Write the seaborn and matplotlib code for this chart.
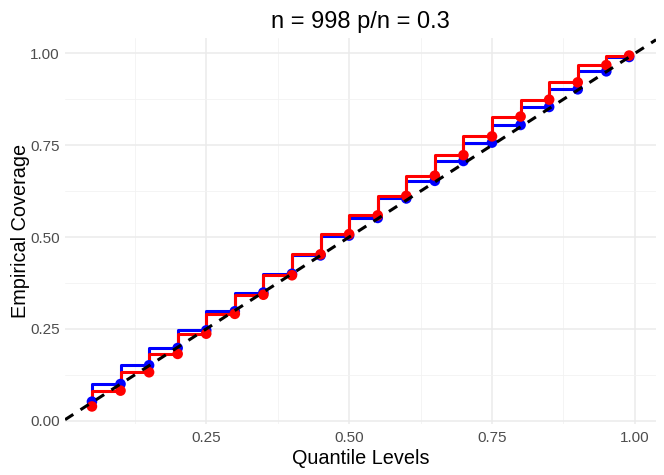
import pandas as pd
import matplotlib
matplotlib.use("Agg")
import matplotlib.pyplot as plt
import seaborn as sns
from matplotlib.ticker import MultipleLocator

# quantile levels and empirical coverage of the two methods
quantile_levels = [0.05, 0.10, 0.15, 0.20, 0.25, 0.30, 0.35, 0.40, 0.45, 0.50,
                   0.55, 0.60, 0.65, 0.70, 0.75, 0.80, 0.85, 0.90, 0.95, 0.99]
coverage_blue = [0.052, 0.100, 0.151, 0.198, 0.246, 0.298, 0.349, 0.400, 0.450, 0.504,
                 0.552, 0.605, 0.653, 0.707, 0.757, 0.805, 0.854, 0.902, 0.951, 0.990]
coverage_red = [0.039, 0.082, 0.132, 0.182, 0.237, 0.291, 0.343, 0.396, 0.453, 0.508,
                0.559, 0.612, 0.667, 0.723, 0.774, 0.828, 0.874, 0.921, 0.968, 0.994]
x_ticks = [0.25, 0.50, 0.75, 1.00]
y_ticks = [0.00, 0.25, 0.50, 0.75, 1.00]

df = pd.DataFrame({"level": quantile_levels, "blue": coverage_blue, "red": coverage_red})

sns.set_theme(style="white")
plt.rcParams["font.family"] = ["Liberation Sans", "DejaVu Sans"]

fig = plt.figure(figsize=(6.64, 4.75), dpi=100)
ax = fig.add_axes([0.098, 0.1074, 0.890, 0.8126])

# step lines (vertical first, then horizontal)
sns.lineplot(data=df, x="level", y="blue", color="#0000FF", linewidth=2.2,
             drawstyle="steps-pre", ax=ax, zorder=3)
sns.lineplot(data=df, x="level", y="red", color="#FF0000", linewidth=2.2,
             drawstyle="steps-pre", ax=ax, zorder=3)
sns.scatterplot(data=df, x="level", y="blue", color="#0000FF", s=58,
                edgecolor="none", ax=ax, zorder=4)
sns.scatterplot(data=df, x="level", y="red", color="#FF0000", s=58,
                edgecolor="none", ax=ax, zorder=4)

# freeze limits to data + 5% so the reference line does not widen them
ax.margins(0.05)
ax.autoscale_view()
ax.set_autoscale_on(False)
ax.axline((0, 0), slope=1, color="black", linewidth=2.2, dashes=(3.2, 2.8), zorder=5)

# ggplot-ish minimal theme
ax.set_xticks(x_ticks)
ax.set_yticks(y_ticks)
ax.xaxis.set_minor_locator(MultipleLocator(0.125))
ax.yaxis.set_minor_locator(MultipleLocator(0.125))
ax.set_xticklabels([f"{v:.2f}" for v in x_ticks])
ax.set_yticklabels([f"{v:.2f}" for v in y_ticks])
ax.grid(True, which="major", color="#EBEBEB", linewidth=1.1)
ax.grid(True, which="minor", color="#F2F2F2", linewidth=0.6)
ax.set_axisbelow(True)
for sp in ax.spines.values():
    sp.set_visible(False)
ax.tick_params(axis="both", which="both", length=0, labelsize=11,
               labelcolor="#4D4D4D")
ax.tick_params(axis="x", pad=5)
ax.tick_params(axis="y", pad=4)

ax.set_xlabel("Quantile Levels", fontsize=14.3, color="black", labelpad=3)
ax.set_ylabel("Empirical Coverage", fontsize=14.3, color="black")
ax.yaxis.set_label_coords(-0.059, 0.5)
ax.set_title("n = 998 p/n = 0.3", fontsize=17, color="black", pad=7)

fig.savefig("out.png", dpi=100)
plt.close(fig)
